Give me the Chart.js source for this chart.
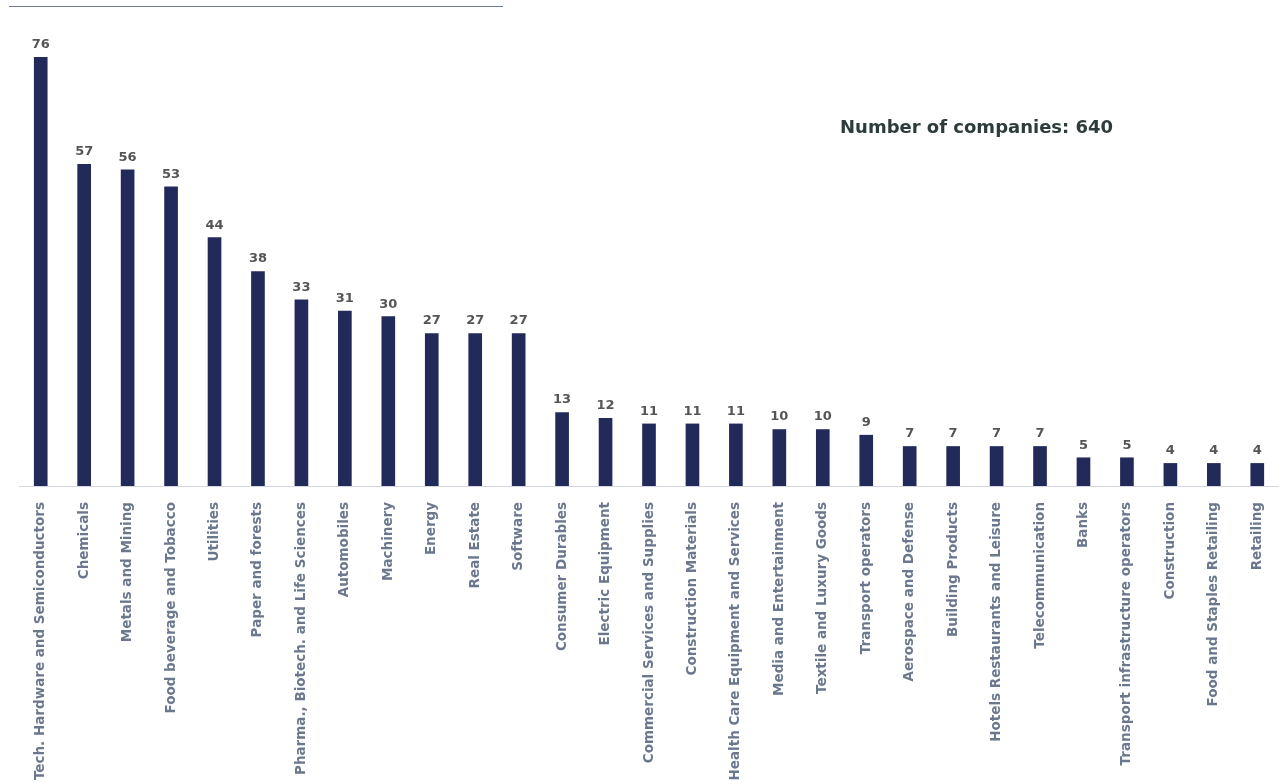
<!DOCTYPE html>
<html>
<head>
<meta charset="utf-8">
<script src="https://cdn.jsdelivr.net/npm/chart.js@4"></script>
<style>
  html, body { margin: 0; padding: 0; background: #fff; }
  #wrap { position: relative; width: 1279px; height: 783px; }
  #topRule { position: absolute; left: 9px; top: 6px; width: 494px; border-top: 1px solid #6f7d92; }
</style>
</head>
<body>
<div id="wrap">
  <div id="topRule"></div>
  <canvas id="sectorChart"></canvas>
</div>
<script>
const sectors = [
    'Tech. Hardware and Semiconductors', 'Chemicals', 'Metals and Mining', 'Food beverage and Tobacco',
    'Utilities', 'Paper and forests', 'Pharma., Biotech. and Life Sciences', 'Automobiles',
    'Machinery', 'Energy', 'Real Estate', 'Software', 'Consumer Durables', 'Electric Equipment',
    'Commercial Services and Supplies', 'Construction Materials', 'Health Care Equipment and Services',
    'Media and Entertainment', 'Textile and Luxury Goods', 'Transport operators', 'Aerospace and Defense',
    'Building Products', 'Hotels Restaurants and Leisure', 'Telecommunication', 'Banks',
    'Transport infrastructure operators', 'Construction', 'Food and Staples Retailing', 'Retailing'
];
const companyCounts = [76, 57, 56, 53, 44, 38, 33, 31, 30, 27, 27, 27, 13, 12, 11, 11, 11, 10, 10, 9, 7, 7, 7, 7, 5, 5, 4, 4, 4];
const totalCompanies = 640;

const FONT = '"DejaVu Sans", sans-serif';

// value above each bar + the total caption
const barValues = {
    id: 'barValues',
    afterDatasetsDraw(chart) {
        const ctx = chart.ctx;
        const meta = chart.getDatasetMeta(0);
        ctx.save();
        ctx.fillStyle = '#555555';
        ctx.font = 'bold 13px ' + FONT;
        ctx.textAlign = 'center';
        ctx.textBaseline = 'bottom';
        meta.data.forEach((bar, i) => {
            ctx.fillText(companyCounts[i], bar.x, bar.y - 6);
        });
        ctx.fillStyle = '#2e3b3b';
        ctx.font = 'bold 18px ' + FONT;
        ctx.textAlign = 'left';
        ctx.textBaseline = 'middle';
        ctx.fillText('Number of companies: ' + totalCompanies, 840, 128);
        ctx.restore();
    }
};

new Chart(document.getElementById('sectorChart').getContext('2d'), {
    type: 'bar',
    data: {
        labels: sectors,
        datasets: [{
            data: companyCounts,
            backgroundColor: '#222a5a',
            barThickness: 13
        }]
    },
    options: {
        responsive: true,
        maintainAspectRatio: false,
        animation: false,
        layout: { padding: { left: 19, right: 0, top: 57, bottom: 0 } },
        plugins: {
            legend: { display: false },
            tooltip: { enabled: false }
        },
        scales: {
            x: {
                grid: { display: false },
                border: { display: true, color: '#d3d7dd', width: 1 },
                ticks: {
                    autoSkip: false,
                    minRotation: 90,
                    maxRotation: 90,
                    padding: 8,
                    color: '#6b778d',
                    font: { family: FONT, size: 13.5, weight: 'bold' }
                },
                afterFit(scale) {
                    scale.height = 297;
                    scale.paddingLeft = 0;
                    scale.paddingRight = 0;
                }
            },
            y: {
                display: false,
                min: 0,
                max: 76
            }
        }
    },
    plugins: [barValues]
});
</script>
</body>
</html>
